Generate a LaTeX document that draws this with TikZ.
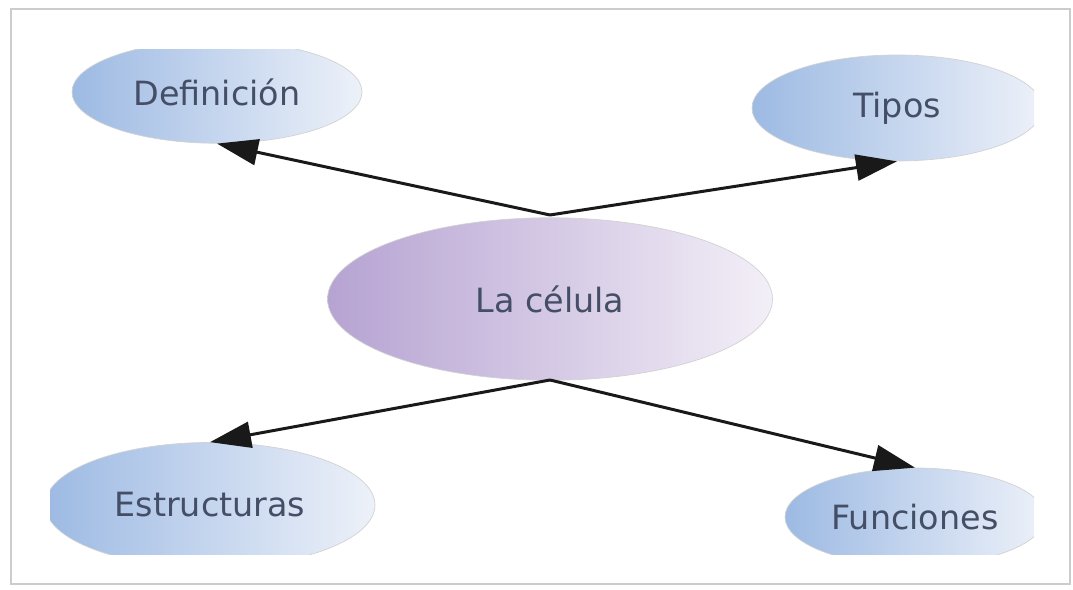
\documentclass[tikz,border=0pt]{standalone}
\usepackage{fontspec}
\setmainfont{DejaVu Sans}
\usepackage{xcolor}
\usetikzlibrary{arrows.meta,shapes.geometric}

\definecolor{bluedark}{HTML}{9DBAE3}
\definecolor{bluelight}{HTML}{EDF1F9}
\definecolor{lilacdark}{HTML}{B6A3D2}
\definecolor{lilaclight}{HTML}{F3EFF7}
\definecolor{labeltext}{HTML}{444E66}

\tikzset{
  topic/.style={ellipse, draw=gray!35, left color=bluedark, right color=bluelight,
    text=labeltext, font=\fontsize{19}{22}\selectfont, inner sep=0pt},
  centre/.style={topic, left color=lilacdark, right color=lilaclight},
  link/.style={line width=1.7pt, black!90, -{Triangle[length=0.82cm,width=0.52cm]}}
}

\begin{document}
\begin{tikzpicture}[x=0.02cm,y=-0.02cm]
	\useasboundingbox (0,0) rectangle (1073,590);
	\draw[gray!40, line width=1pt] (11,9) rectangle (1070,584);
	
	\begin{scope}
		\clip (50,50) rectangle (1034,555);
		\node[centre, minimum width=8.9cm, minimum height=3.25cm] (cell) at (550,299) {La célula};
		
		\node[topic, minimum width=5.8cm, minimum height=2.05cm] (def) at (217,92) {Definición};
		\node[topic, minimum width=5.8cm, minimum height=2.12cm] (tip) at (897,108) {Tipos};
		\node[topic, minimum width=6.6cm, minimum height=2.5cm] (est) at (210,505) {Estructuras};
		\node[topic, minimum width=5.2cm, minimum height=1.96cm] (fun) at (915,517) {Funciones};
	\end{scope}
	
	\coordinate (up) at (550,215);
	\coordinate (down) at (550,380);
	
	\draw[link] (up) -- (def.south);
	\draw[link] (up) -- (tip.south);
	\draw[link] (down) -- (est.north);
	\draw[link] (down) -- (fun.north);
\end{tikzpicture}
\end{document}
